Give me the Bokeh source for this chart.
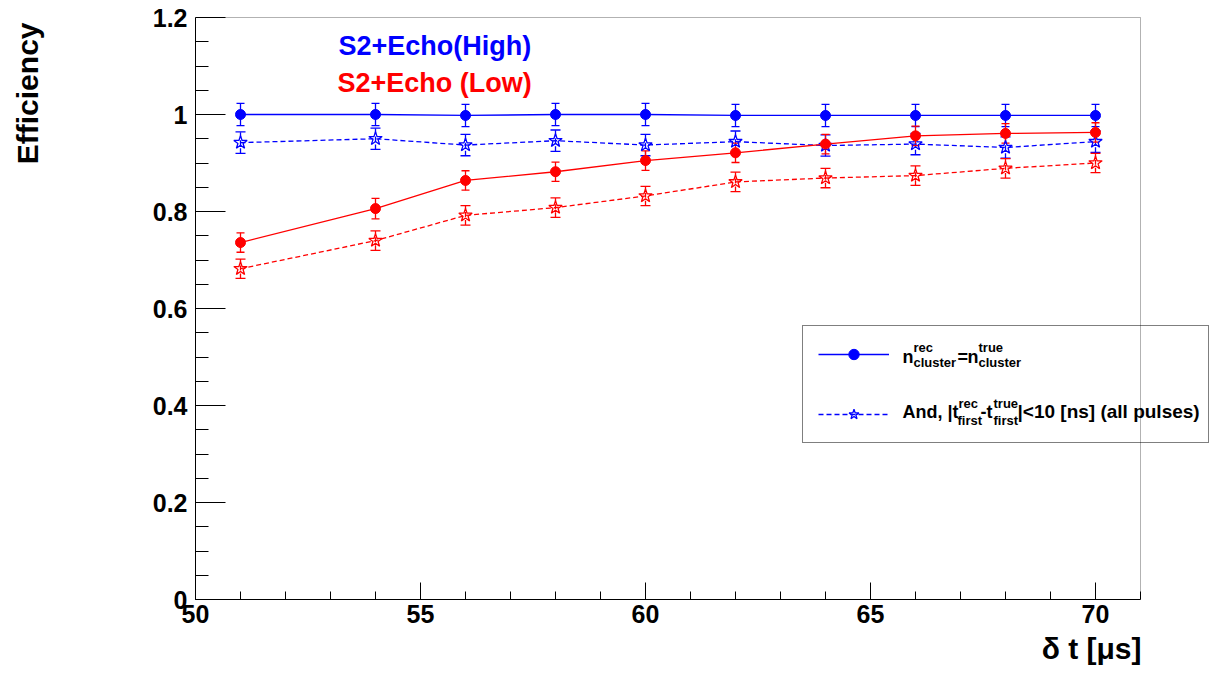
from bokeh.plotting import figure
from bokeh.models import (Range1d, FixedTicker, NumeralTickFormatter, Label, Whisker,
                          TeeHead, ColumnDataSource, Legend, LegendItem, BoxAnnotation,
                          Title)
from bokeh.embed import file_html
from bokeh.resources import INLINE

# ---------------- data ----------------
dt = [51, 54, 56, 58, 60, 62, 64, 66, 68, 70]

high_cluster = [1.000, 1.000, 0.998, 1.000, 1.000, 0.998, 0.998, 0.998, 0.998, 0.998]
high_cluster_err = [0.023, 0.023, 0.023, 0.023, 0.023, 0.023, 0.023, 0.023, 0.023, 0.023]

high_first = [0.942, 0.950, 0.937, 0.946, 0.937, 0.944, 0.936, 0.939, 0.932, 0.944]
high_first_err = [0.022, 0.022, 0.022, 0.022, 0.022, 0.022, 0.022, 0.022, 0.022, 0.022]

low_cluster = [0.736, 0.806, 0.864, 0.882, 0.905, 0.921, 0.939, 0.956, 0.961, 0.963]
low_cluster_err = [0.020, 0.021, 0.020, 0.020, 0.020, 0.020, 0.020, 0.020, 0.020, 0.020]

low_first = [0.682, 0.740, 0.792, 0.808, 0.832, 0.861, 0.869, 0.874, 0.889, 0.900]
low_first_err = [0.020, 0.020, 0.020, 0.020, 0.020, 0.020, 0.020, 0.020, 0.020, 0.020]

y_ticks = [0.0, 0.2, 0.4, 0.6, 0.8, 1.0, 1.2]
y_minor = [0.05, 0.1, 0.15, 0.25, 0.3, 0.35, 0.45, 0.5, 0.55, 0.65, 0.7, 0.75,
           0.85, 0.9, 0.95, 1.05, 1.1, 1.15]
x_ticks = [50, 55, 60, 65, 70]
x_minor = list(range(50, 72))
x_min, x_max = 50, 71
y_min, y_max = 0.0, 1.2

BLUE = "#0000ff"
RED = "#ff0000"
FONT = "Liberation Sans"

# ---------------- layout geometry (pixels) ----------------
W, H = 1210, 674
FL, FR, FT, FB = 195, 1209, 16, 599          # frame edges on the page
PX_X = 45.0                                  # pixels per x unit
PX_Y = 485.0                                 # pixels per y unit

def dx(px):
    return x_min + (px - FL) / PX_X
def dy(py):
    return (FB - py) / PX_Y

p = figure(width=W, height=H, output_backend="svg", toolbar_location=None,
           x_range=Range1d(x_min, dx(FR)), y_range=Range1d(y_min, dy(FT)),
           min_border_left=FL, min_border_right=W - FR, min_border_top=FT,
           min_border_bottom=H - FB)
p.xgrid.visible = False
p.ygrid.visible = False
p.outline_line_color = None
p.background_fill_color = "white"
p.border_fill_color = "white"

for ax in (p.xaxis[0], p.yaxis[0]):
    ax.major_tick_out = 0
    ax.minor_tick_out = 0
    ax.axis_line_color = "black"
    ax.major_tick_line_color = "black"
    ax.minor_tick_line_color = "black"
    ax.major_label_text_font = FONT
    ax.major_label_text_font_style = "bold"
    ax.major_label_text_font_size = "25px"
    ax.major_label_text_color = "black"

p.xaxis[0].ticker = FixedTicker(ticks=x_ticks, minor_ticks=x_minor)
p.xaxis[0].bounds = (x_min, x_max)
p.xaxis[0].major_tick_in = 17
p.xaxis[0].minor_tick_in = 8
p.xaxis[0].major_label_standoff = 5

p.yaxis[0].ticker = FixedTicker(ticks=y_ticks, minor_ticks=y_minor)
p.yaxis[0].bounds = (y_min, y_max)
p.yaxis[0].formatter = NumeralTickFormatter(format="0.[0]")
p.yaxis[0].major_tick_in = 30
p.yaxis[0].minor_tick_in = 13
p.yaxis[0].major_label_standoff = 8
# invisible spacer label to push the y title to the left edge
p.yaxis[0].axis_label = " "
p.yaxis[0].axis_label_standoff = 102
p.yaxis[0].axis_label_text_font_size = "1px"

# y title (top-aligned, left of the axis)
p.add_layout(Title(text="Efficiency", align="right", offset=6, standoff=0,
                   text_font=FONT, text_font_style="bold", text_font_size="30px",
                   text_color="black"), "left")

# x title (right-aligned at the frame's right edge)
p.add_layout(Title(text="\u03b4 t [\u03bcs]", align="right", offset=FR - 1141,
                   text_font=FONT, text_font_style="bold", text_font_size="30px",
                   text_color="black", standoff=9), "below")

# box (top and right edges of the ROOT frame)
p.add_layout(BoxAnnotation(left=x_min, right=x_max, bottom=y_min, top=y_max,
                           fill_color=None, fill_alpha=0, line_color="black",
                           line_width=1))

# ---------------- series ----------------
def series(yvals, errs, color, dash, marker):
    src = ColumnDataSource(dict(x=dt, y=yvals,
                                lo=[a - b for a, b in zip(yvals, errs)],
                                hi=[a + b for a, b in zip(yvals, errs)]))
    ln = p.line("x", "y", source=src, line_color=color, line_width=1.3, line_dash=dash)
    cap = 8 if marker == "circle" else 10
    w = Whisker(base="x", lower="lo", upper="hi", source=src, line_color=color,
                line_width=1.3, line_dash=dash,
                upper_head=TeeHead(size=cap, line_color=color, line_width=1.3),
                lower_head=TeeHead(size=cap, line_color=color, line_width=1.3))
    p.add_layout(w)
    if marker == "circle":
        sc = p.scatter("x", "y", source=src, marker="circle", size=10,
                       fill_color=color, line_color=color)
    else:
        sc = p.scatter("x", "y", source=src, marker="star", size=14,
                       fill_color=None, line_color=color, line_width=1.3)
    return ln, sc

hc = series(high_cluster, high_cluster_err, BLUE, "solid", "circle")
hf = series(high_first, high_first_err, BLUE, "5 3", "star")
lc = series(low_cluster, low_cluster_err, RED, "solid", "circle")
lf = series(low_first, low_first_err, RED, "5 3", "star")

# ---------------- legend box ----------------
legend = Legend(items=[LegendItem(label=" ", renderers=list(hc)),
                       LegendItem(label=" ", renderers=list(hf))],
                location=(802 - FL, FB - 443), orientation="vertical",
                padding=15, spacing=34, margin=0,
                glyph_width=71, glyph_height=26, label_height=26,
                label_width=290, label_standoff=14,
                border_line_color="black", border_line_width=1,
                background_fill_color="white", background_fill_alpha=0.0,
                label_text_font_size="10px")
p.add_layout(legend)

def lab(text, px, base_py, size, color="black"):
    # base_py: desired alphabetic baseline on the page; anchor at em-box middle
    p.add_layout(Label(x=dx(px), y=dy(base_py - 0.35 * size), text=text,
                       text_font=FONT, text_font_style="bold",
                       text_font_size=f"{size}px", text_color=color,
                       text_align="left", text_baseline="middle", level="overlay"))

# legend entry 1: n^{rec}_{cluster} = n^{true}_{cluster}
lab("n", 902, 363, 18)
lab("rec", 913, 352, 13)
lab("cluster", 913, 367, 13)
lab("=", 957, 363, 18)
lab("n", 967, 363, 18)
lab("true", 978, 352, 13)
lab("cluster", 978, 367, 13)

# legend entry 2: And, |t^{rec}_{first} - t^{true}_{first}| < 10 [ns] (all pulses)
lab("And, |t", 902, 418, 18)
lab("rec", 958, 408, 13)
lab("first", 957, 425, 13)
lab("-t", 980, 418, 18)
lab("true", 993, 408, 13)
lab("first", 993, 425, 13)
lab("|<10 [ns] (all pulses)", 1017, 418, 19)

# titles
lab("S2+Echo(High)", 338, 55, 27, color=BLUE)
lab("S2+Echo (Low)", 337, 92, 27, color=RED)

open("out.html", "w").write(file_html(p, INLINE))
